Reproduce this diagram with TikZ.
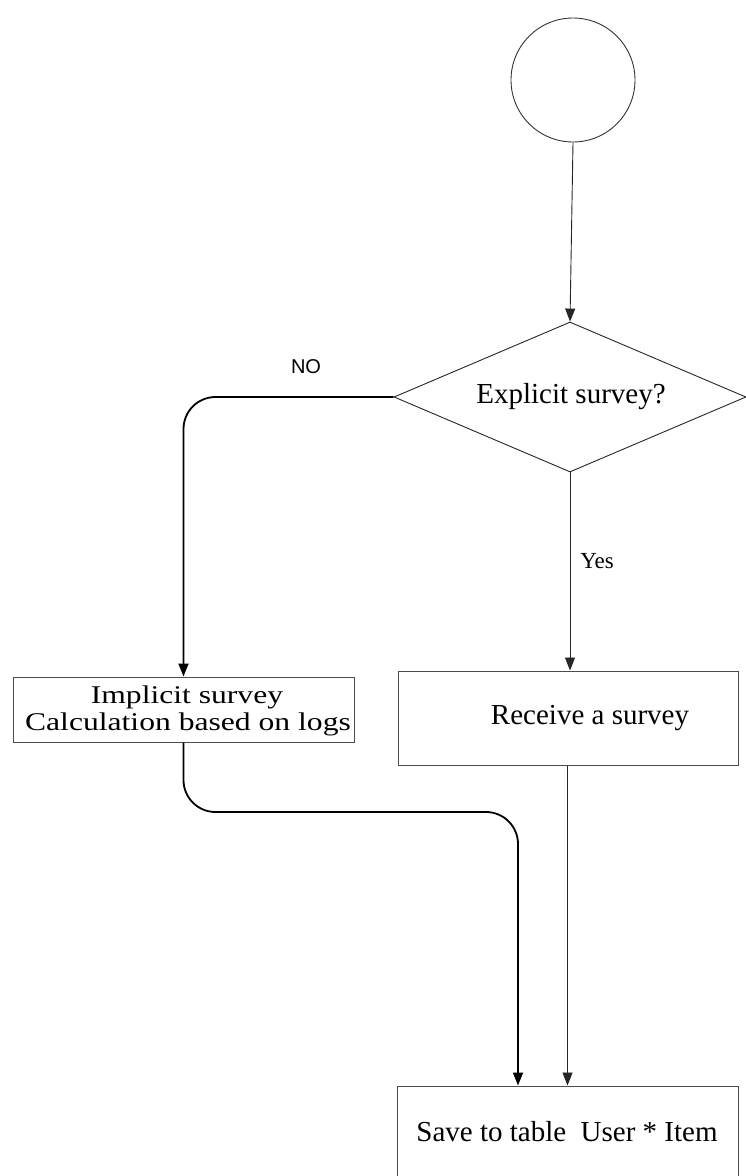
\documentclass[tikz,border=0pt]{standalone}
\usepackage{fontspec}
\setmainfont{Liberation Serif}
\newfontfamily\nofont{Liberation Sans}
\newfontfamily\widefont{Liberation Serif}[FakeStretch=1.24]
\usetikzlibrary{arrows.meta,shapes.geometric,calc}
\tikzset{
  main/.style={font=\fontsize{29}{34}\selectfont},
  widetext/.style={font=\widefont\fontsize{25.5}{30}\selectfont},
  thinline/.style={draw=black!85, line width=0.9pt},
  boldline/.style={draw=black, line width=1.8pt},
  arr/.style={-{Triangle[width=10pt,length=13pt]}},
  box/.style={draw=black!70, line width=1pt, inner sep=0pt},
}
\begin{document}
\begin{tikzpicture}[x=1pt,y=-1pt]
\useasboundingbox (0,0) rectangle (746,1176);
\node[circle, draw=black!80, line width=0.9pt, minimum size=124pt, inner sep=0pt] (start) at (573,80) {};
\node[diamond, draw=black!85, line width=0.9pt, minimum width=352pt, minimum height=150pt, aspect=2.35, inner sep=0pt] (dec) at (570,397) {};
\node[main] (dectext) at (571,397) {Explicit survey?};
\node[box, minimum width=341pt, minimum height=65pt] (impl) at (183.5,709.5) {};
\node[widetext] (impl1) at (187,697) {Implicit survey};
\node[widetext] (impl2) at (188,724) {Calculation based on logs};
\node[box, minimum width=340pt, minimum height=94pt] (recv) at (568,718) {};
\node[main] (recvtext) at (590,718) {Receive a survey};
\node[box, minimum width=341pt, minimum height=92pt] (save) at (567.5,1132) {};
\node[main] (savetext) at (567,1132) {Save to table\hspace{0.25em} User * Item};
\node[font=\nofont\fontsize{20}{24}\selectfont] (no) at (306,367) {NO};
\node[font=\fontsize{23}{27}\selectfont] (yes) at (597,561) {Yes};
\coordinate (m) at (518,812);
\draw[thinline, arr] (start.south) -- (dec.north);
\draw[thinline, arr] (dec.south) -- (dec.south |- recv.north);
\draw[boldline, arr, rounded corners=32pt] (dec.west) -| (impl.north);
\draw[boldline, arr, rounded corners=32pt] (impl.south) |- (m) -- (m |- save.north);
\draw[thinline, arr] (recv.south -| save.north) -- (save.north);
\end{tikzpicture}
\end{document}
